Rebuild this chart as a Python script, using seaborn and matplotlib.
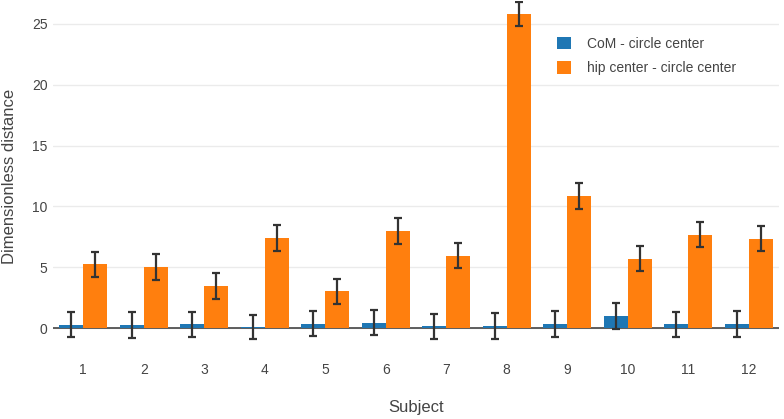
import numpy as np
import pandas as pd
import matplotlib
matplotlib.use("Agg")
import matplotlib.pyplot as plt
import seaborn as sns

# -------- Datos --------
sujetos = ["1", "2", "3", "4", "5", "6", "7", "8", "9", "10", "11", "12"]
series = ["CoM - circle center", "hip center - circle center"]

com_media = [0.28, 0.26, 0.33, 0.10, 0.38, 0.46, 0.16, 0.19, 0.35, 1.00, 0.33, 0.33]
com_err = [1.02, 1.03, 1.03, 1.00, 1.01, 1.05, 1.04, 1.04, 1.04, 1.03, 1.03, 1.05]
hip_media = [5.23, 5.04, 3.46, 7.43, 3.02, 7.98, 5.94, 25.8, 10.87, 5.72, 7.68, 7.35]
hip_err = [1.05, 1.05, 1.06, 1.06, 1.01, 1.03, 1.03, 1.0, 1.06, 1.05, 1.02, 1.03]

colores = ["#1f77b4", "#ff7f0e"]
GRIS = "#444444"

df = pd.DataFrame({
    "Subject": sujetos * 2,
    "valor": com_media + hip_media,
    "serie": [series[0]] * len(sujetos) + [series[1]] * len(sujetos),
})
errores = [com_err, hip_err]

sns.set_theme(style="white")
plt.rcParams["font.family"] = ["Liberation Sans", "DejaVu Sans"]

fig = plt.figure(figsize=(7.84, 4.19), dpi=100)
ax = fig.add_axes([53 / 784, 1 - 352.5 / 419, 726 / 784, 351.8 / 419])

sns.barplot(data=df, x="Subject", y="valor", hue="serie", order=sujetos,
            hue_order=series, palette=colores, errorbar=None, width=0.8,
            saturation=1, ax=ax, zorder=3, linewidth=0)

# barras de error sobre cada barra
for cont, err in zip(ax.containers, errores):
    xs = [p.get_x() + p.get_width() / 2 for p in cont.patches]
    ys = [p.get_height() for p in cont.patches]
    ax.errorbar(xs, ys, yerr=err, fmt="none", ecolor="#333333",
                elinewidth=1.6, capsize=3.2, capthick=1.6, zorder=4)

ax.set_xlim(-0.5, 11.5)
ax.set_ylim(-2, 26.9)
ax.set_yticks([0, 5, 10, 15, 20, 25])
ax.yaxis.grid(True, color="#ebebeb", linewidth=1, zorder=0)
ax.axhline(0, color=GRIS, linewidth=1.2, zorder=2)
for s in ax.spines.values():
    s.set_visible(False)

ax.tick_params(axis="x", length=0, pad=7.5, labelsize=10, labelcolor=GRIS)
ax.tick_params(axis="y", length=0, pad=4, labelsize=10, labelcolor=GRIS)
ax.set_xlabel("Subject", fontsize=12, color=GRIS)
ax.set_ylabel("Dimensionless distance", fontsize=12, color=GRIS)
ax.xaxis.set_label_coords(0.5, -0.135)
ax.yaxis.set_label_coords(-0.050, 0.5)

leg = ax.legend(loc="upper left", bbox_to_anchor=(0.694, 0.897), frameon=False,
                fontsize=10, handlelength=1.0, handleheight=1.0,
                handletextpad=1.15, labelspacing=0.73, borderpad=0,
                borderaxespad=0)
for t in leg.get_texts():
    t.set_color(GRIS)

fig.savefig("out.png", dpi=100)
